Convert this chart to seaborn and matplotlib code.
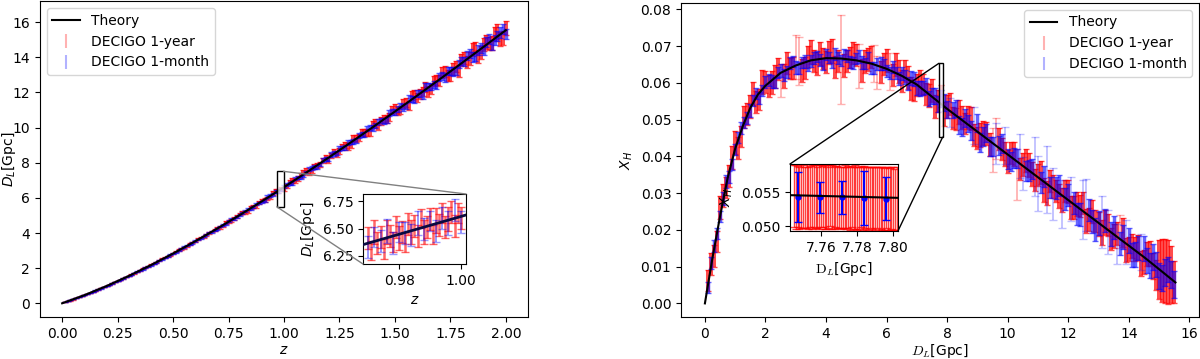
import numpy as np
import pandas as pd
import matplotlib
matplotlib.use("Agg")
import matplotlib.pyplot as plt
import seaborn as sns
from matplotlib.patches import Rectangle, ConnectionPatch
from matplotlib.lines import Line2D

# ---------------- data: left panel (D_L vs z) ----------------
z_theory = [0.0, 0.1, 0.2, 0.3, 0.4, 0.5, 0.6, 0.7, 0.8, 0.9, 1.0,
            1.1, 1.2, 1.3, 1.4, 1.5, 1.6, 1.7, 1.8, 1.9, 2.0]
dl_theory = [0.0, 0.460, 0.980, 1.553, 2.172, 2.833, 3.531, 4.260, 5.019, 5.802, 6.609,
             7.436, 8.282, 9.144, 10.021, 10.913, 11.817, 12.732, 13.659, 14.597, 15.543]

# simulated catalogue, part A
z_obs = [0.025, 0.050, 0.075, 0.100, 0.125, 0.150, 0.175, 0.200, 0.225, 0.250,
         0.275, 0.300, 0.325, 0.350, 0.375, 0.400, 0.425, 0.450, 0.475, 0.500,
         0.525, 0.550, 0.575, 0.600, 0.625, 0.650, 0.675, 0.700, 0.725, 0.750,
         0.775, 0.800, 0.825, 0.850, 0.875, 0.900, 0.925, 0.950, 0.975, 1.000,
         1.025, 1.050, 1.075, 1.100, 1.125, 1.150, 1.175, 1.200, 1.225, 1.250,
         1.275, 1.300, 1.325, 1.350, 1.375, 1.400, 1.425, 1.450, 1.475, 1.500,
         1.525, 1.550, 1.575, 1.600, 1.625, 1.650, 1.675, 1.700, 1.725, 1.750,
         1.775, 1.800, 1.825, 1.850, 1.875, 1.900, 1.925, 1.950, 1.975, 2.000]
dl_year = [0.120, 0.223, 0.355, 0.458, 0.594, 0.709, 0.858, 0.981, 1.115, 1.280,
           1.405, 1.557, 1.691, 1.878, 2.015, 2.182, 2.320, 2.530, 2.655, 2.833,
           3.031, 3.146, 3.370, 3.522, 3.752, 3.870, 4.084, 4.301, 4.406, 4.666,
           4.822, 5.086, 5.168, 5.427, 5.536, 5.848, 5.975, 6.266, 6.407, 6.510,
           6.897, 6.975, 7.267, 7.541, 7.566, 7.845, 8.145, 8.159, 8.642, 8.680,
           8.998, 9.019, 9.382, 9.698, 9.702, 10.186, 10.052, 10.511, 10.622, 11.078,
           10.993, 11.440, 11.823, 11.711, 12.046, 12.049, 12.649, 12.672, 13.210, 12.975,
           13.492, 13.859, 13.722, 14.445, 14.037, 14.745, 14.796, 15.343, 15.067, 15.666]
err_year = [0.010, 0.011, 0.010, 0.012, 0.012, 0.013, 0.012, 0.015, 0.014, 0.017,
            0.017, 0.020, 0.020, 0.023, 0.023, 0.027, 0.027, 0.031, 0.032, 0.036,
            0.037, 0.042, 0.042, 0.048, 0.048, 0.054, 0.055, 0.061, 0.062, 0.068,
            0.069, 0.076, 0.077, 0.085, 0.085, 0.094, 0.094, 0.103, 0.104, 0.113,
            0.113, 0.124, 0.124, 0.135, 0.135, 0.147, 0.146, 0.159, 0.158, 0.171,
            0.170, 0.184, 0.183, 0.198, 0.196, 0.212, 0.210, 0.226, 0.225, 0.242,
            0.240, 0.257, 0.255, 0.274, 0.271, 0.290, 0.288, 0.308, 0.305, 0.325,
            0.322, 0.344, 0.340, 0.362, 0.358, 0.382, 0.377, 0.401, 0.396, 0.422]
dl_month = [0.112, 0.235, 0.344, 0.467, 0.584, 0.723, 0.850, 0.975, 1.131, 1.265,
            1.417, 1.542, 1.714, 1.858, 2.033, 2.160, 2.341, 2.501, 2.683, 2.809,
            3.011, 3.203, 3.344, 3.548, 3.691, 3.927, 4.070, 4.229, 4.464, 4.670,
            4.803, 5.019, 5.238, 5.362, 5.652, 5.782, 6.069, 6.198, 6.360, 6.650,
            6.799, 7.095, 7.163, 7.446, 7.689, 7.763, 8.138, 8.236, 8.522, 8.800,
            8.864, 9.184, 9.251, 9.583, 9.936, 9.975, 10.324, 10.368, 10.827, 10.895,
            11.212, 11.234, 11.630, 11.937, 11.861, 12.338, 12.459, 12.889, 12.848, 13.220,
            13.232, 13.784, 14.126, 14.022, 14.417, 14.430, 15.063, 14.982, 15.427, 15.328]
err_month = [0.008, 0.008, 0.008, 0.009, 0.009, 0.009, 0.010, 0.011, 0.011, 0.012,
             0.013, 0.014, 0.016, 0.016, 0.018, 0.019, 0.021, 0.022, 0.025, 0.026,
             0.028, 0.030, 0.032, 0.034, 0.037, 0.039, 0.042, 0.044, 0.047, 0.050,
             0.052, 0.056, 0.058, 0.062, 0.065, 0.068, 0.072, 0.075, 0.079, 0.083,
             0.086, 0.090, 0.095, 0.098, 0.103, 0.107, 0.111, 0.116, 0.120, 0.125,
             0.130, 0.134, 0.140, 0.144, 0.149, 0.155, 0.160, 0.165, 0.171, 0.176,
             0.182, 0.188, 0.194, 0.200, 0.206, 0.212, 0.218, 0.224, 0.231, 0.237,
             0.244, 0.250, 0.257, 0.264, 0.271, 0.278, 0.286, 0.293, 0.300, 0.308]

# simulated catalogue, part B
z_obs2 = [0.0125, 0.0375, 0.0625, 0.0875, 0.1125, 0.1375, 0.1625, 0.1875, 0.2125, 0.2375,
          0.2625, 0.2875, 0.3125, 0.3375, 0.3625, 0.3875, 0.4125, 0.4375, 0.4625, 0.4875,
          0.5125, 0.5375, 0.5625, 0.5875, 0.6125, 0.6375, 0.6625, 0.6875, 0.7125, 0.7375,
          0.7625, 0.7875, 0.8125, 0.8375, 0.8625, 0.8875, 0.9125, 0.9375, 0.9625, 0.9875,
          1.0125, 1.0375, 1.0625, 1.0875, 1.1125, 1.1375, 1.1625, 1.1875, 1.2125, 1.2375,
          1.2625, 1.2875, 1.3125, 1.3375, 1.3625, 1.3875, 1.4125, 1.4375, 1.4625, 1.4875,
          1.5125, 1.5375, 1.5625, 1.5875, 1.6125, 1.6375, 1.6625, 1.6875, 1.7125, 1.7375,
          1.7625, 1.7875, 1.8125, 1.8375, 1.8625, 1.8875, 1.9125, 1.9375, 1.9625, 1.9875]
dl_year2 = [0.060, 0.163, 0.294, 0.399, 0.535, 0.648, 0.786, 0.928, 1.040, 1.201,
            1.334, 1.494, 1.619, 1.785, 1.962, 2.073, 2.268, 2.417, 2.605, 2.736,
            2.950, 3.083, 3.240, 3.453, 3.651, 3.757, 4.009, 4.175, 4.317, 4.604,
            4.706, 4.946, 5.172, 5.247, 5.508, 5.750, 5.884, 6.015, 6.390, 6.530,
            6.654, 6.991, 7.113, 7.450, 7.446, 7.796, 7.906, 8.284, 8.406, 8.472,
            8.908, 8.929, 9.402, 9.435, 9.732, 9.726, 10.260, 10.355, 10.464, 11.013,
            10.953, 11.352, 11.272, 11.890, 11.904, 12.301, 12.185, 12.707, 13.125, 12.954,
            13.344, 13.242, 13.982, 13.941, 14.535, 14.257, 14.867, 14.835, 15.468, 15.097]
err_year2 = [0.010, 0.011, 0.011, 0.012, 0.012, 0.013, 0.013, 0.014, 0.015, 0.016,
             0.018, 0.019, 0.021, 0.023, 0.024, 0.026, 0.029, 0.030, 0.033, 0.036,
             0.038, 0.041, 0.043, 0.047, 0.049, 0.053, 0.056, 0.060, 0.063, 0.067,
             0.070, 0.075, 0.078, 0.083, 0.087, 0.092, 0.096, 0.101, 0.105, 0.111,
             0.115, 0.121, 0.126, 0.132, 0.137, 0.143, 0.148, 0.155, 0.160, 0.167,
             0.173, 0.180, 0.186, 0.193, 0.199, 0.207, 0.213, 0.221, 0.228, 0.236,
             0.243, 0.251, 0.258, 0.267, 0.274, 0.283, 0.291, 0.300, 0.308, 0.317,
             0.325, 0.335, 0.343, 0.353, 0.362, 0.372, 0.381, 0.391, 0.400, 0.411]
dl_month2 = [0.062, 0.170, 0.290, 0.396, 0.526, 0.660, 0.780, 0.918, 1.041, 1.205,
             1.337, 1.488, 1.620, 1.800, 1.935, 2.098, 2.239, 2.429, 2.580, 2.766,
             2.897, 3.095, 3.292, 3.430, 3.633, 3.800, 4.025, 4.143, 4.379, 4.530,
             4.776, 4.885, 5.123, 5.350, 5.475, 5.718, 5.838, 6.135, 6.361, 6.491,
             6.738, 6.847, 7.174, 7.293, 7.635, 7.753, 7.898, 8.199, 8.474, 8.542,
             8.834, 9.143, 9.211, 9.531, 9.588, 10.004, 10.116, 10.405, 10.424, 10.889,
             11.062, 11.139, 11.653, 11.624, 11.931, 12.308, 12.345, 12.438, 12.940, 13.222,
             13.189, 13.618, 13.750, 14.222, 14.055, 14.536, 14.858, 14.688, 15.218, 15.610]
err_month2 = [0.0075, 0.0075, 0.008, 0.008, 0.009, 0.009, 0.010, 0.011, 0.011, 0.012,
              0.014, 0.014, 0.016, 0.017, 0.018, 0.020, 0.021, 0.023, 0.025, 0.026,
              0.029, 0.030, 0.032, 0.035, 0.037, 0.039, 0.042, 0.044, 0.047, 0.050,
              0.053, 0.056, 0.059, 0.062, 0.065, 0.068, 0.072, 0.075, 0.079, 0.083,
              0.086, 0.090, 0.095, 0.098, 0.103, 0.107, 0.111, 0.116, 0.120, 0.125,
              0.130, 0.134, 0.140, 0.144, 0.149, 0.155, 0.160, 0.165, 0.171, 0.176,
              0.182, 0.188, 0.194, 0.200, 0.206, 0.212, 0.218, 0.224, 0.231, 0.237,
              0.244, 0.251, 0.257, 0.264, 0.272, 0.278, 0.286, 0.293, 0.300, 0.308]

# zoom (inset) data, left
z_zoom_year = [0.970, 0.971, 0.972, 0.973, 0.974, 0.975, 0.976, 0.977, 0.978, 0.979,
               0.980, 0.981, 0.982, 0.983, 0.984, 0.985, 0.986, 0.987, 0.988, 0.989,
               0.990, 0.991, 0.992, 0.993, 0.994, 0.995, 0.996, 0.997, 0.998, 0.999, 1.000]
dl_zoom_year = [6.411, 6.299, 6.468, 6.366, 6.424, 6.312, 6.471, 6.429, 6.377, 6.515,
                6.414, 6.472, 6.380, 6.539, 6.467, 6.525, 6.433, 6.592, 6.470, 6.518,
                6.586, 6.445, 6.573, 6.531, 6.640, 6.518, 6.586, 6.654, 6.523, 6.641, 6.599]
err_zoom_year = [0.10, 0.09, 0.11, 0.10, 0.10, 0.09, 0.11, 0.10, 0.09, 0.10,
                 0.11, 0.10, 0.09, 0.10, 0.11, 0.10, 0.10, 0.09, 0.11, 0.10,
                 0.10, 0.09, 0.11, 0.10, 0.09, 0.10, 0.11, 0.10, 0.10, 0.09, 0.10]
z_zoom_month = [0.970, 0.972, 0.974, 0.976, 0.978, 0.980, 0.982, 0.984,
                0.986, 0.988, 0.990, 0.992, 0.994, 0.996, 0.998, 1.000]
dl_zoom_month = [6.329, 6.426, 6.386, 6.475, 6.371, 6.468, 6.460, 6.437,
                 6.549, 6.494, 6.566, 6.479, 6.592, 6.552, 6.665, 6.561]
err_zoom_month = [0.10, 0.09, 0.10, 0.11, 0.10, 0.09, 0.10, 0.10,
                  0.11, 0.10, 0.09, 0.10, 0.10, 0.11, 0.10, 0.10]

# ---------------- data: right panel (X_H vs D_L) ----------------
dl_theory_r = [0.0, 0.1, 0.25, 0.5, 0.75, 1.0, 1.25, 1.5, 1.75, 2.0, 2.5, 3.0, 3.5, 4.0, 4.5,
               5.0, 5.5, 6.0, 6.5, 7.0, 7.5, 8.0, 8.5, 9.0, 9.5, 10.0, 10.5, 11.0, 11.5,
               12.0, 12.5, 13.0, 13.5, 14.0, 14.5, 15.0, 15.54]
xh_theory = [0.0, 0.0050, 0.0124, 0.0237, 0.0341, 0.0421, 0.0482, 0.0532, 0.0568, 0.0592,
             0.0627, 0.0647, 0.0661, 0.0667, 0.0666, 0.0661, 0.0652, 0.0638, 0.0619, 0.0595,
             0.0562, 0.0529, 0.0498, 0.0467, 0.0436, 0.0405, 0.0374, 0.0343, 0.0312, 0.0281,
             0.0250, 0.0219, 0.0188, 0.0157, 0.0126, 0.0093, 0.0057]

# part A
dl_obs_r = [0.1, 0.3, 0.5, 0.7, 0.9, 1.1, 1.3, 1.5, 1.7, 1.9,
            2.1, 2.3, 2.5, 2.7, 2.9, 3.1, 3.3, 3.5, 3.7, 3.9,
            4.1, 4.3, 4.5, 4.7, 4.9, 5.1, 5.3, 5.5, 5.7, 5.9,
            6.1, 6.3, 6.5, 6.7, 6.9, 7.1, 7.3, 7.5, 7.7, 7.9,
            8.1, 8.3, 8.5, 8.7, 8.9, 9.1, 9.3, 9.5, 9.7, 9.9,
            10.1, 10.3, 10.5, 10.7, 10.9, 11.1, 11.3, 11.5, 11.7, 11.9,
            12.1, 12.3, 12.5, 12.7, 12.9, 13.1, 13.3, 13.5, 13.7, 13.9,
            14.1, 14.3, 14.5, 14.7, 14.9, 15.1, 15.3, 15.5]
xh_year = [0.0063, 0.0129, 0.0260, 0.0315, 0.0397, 0.0422, 0.0507, 0.0535, 0.0548, 0.0602,
           0.0591, 0.0618, 0.0607, 0.0653, 0.0640, 0.0660, 0.0640, 0.0684, 0.0653, 0.0666,
           0.0682, 0.0644, 0.0663, 0.0659, 0.0682, 0.0646, 0.0658, 0.0670, 0.0628, 0.0651,
           0.0631, 0.0650, 0.0604, 0.0614, 0.0580, 0.0602, 0.0569, 0.0580, 0.0551, 0.0515,
           0.0542, 0.0501, 0.0506, 0.0506, 0.0458, 0.0458, 0.0461, 0.0416, 0.0447, 0.0406,
           0.0409, 0.0350, 0.0377, 0.0377, 0.0336, 0.0357, 0.0301, 0.0317, 0.0292, 0.0305,
           0.0260, 0.0270, 0.0273, 0.0228, 0.0225, 0.0193, 0.0213, 0.0183, 0.0196, 0.0145,
           0.0156, 0.0153, 0.0113, 0.0137, 0.0077, 0.0090, 0.0085, 0.0058]
err_year_r = [0.0028, 0.0030, 0.0031, 0.0029, 0.0032, 0.0030, 0.0029, 0.0031, 0.0030, 0.0032,
              0.0029, 0.0031, 0.0045, 0.0030, 0.0031, 0.0065, 0.0030, 0.0032, 0.0031, 0.0029,
              0.0032, 0.0030, 0.0120, 0.0031, 0.0030, 0.0060, 0.0031, 0.0030, 0.0045, 0.0031,
              0.0050, 0.0032, 0.0030, 0.0031, 0.0030, 0.0032, 0.0030, 0.0031, 0.0030, 0.0032,
              0.0031, 0.0030, 0.0032, 0.0031, 0.0030, 0.0032, 0.0031, 0.0060, 0.0030, 0.0032,
              0.0031, 0.0070, 0.0031, 0.0032, 0.0030, 0.0031, 0.0033, 0.0031, 0.0032, 0.0030,
              0.0031, 0.0033, 0.0031, 0.0032, 0.0030, 0.0033, 0.0031, 0.0032, 0.0045, 0.0033,
              0.0032, 0.0034, 0.0033, 0.0034, 0.0040, 0.0085, 0.0088, 0.0058]
xh_month = [0.0044, 0.0156, 0.0235, 0.0332, 0.0378, 0.0450, 0.0492, 0.0524, 0.0572, 0.0579,
            0.0607, 0.0601, 0.0633, 0.0630, 0.0657, 0.0641, 0.0658, 0.0659, 0.0672, 0.0652,
            0.0669, 0.0678, 0.0660, 0.0672, 0.0653, 0.0671, 0.0652, 0.0641, 0.0651, 0.0650,
            0.0626, 0.0627, 0.0625, 0.0597, 0.0611, 0.0584, 0.0591, 0.0563, 0.0542, 0.0546,
            0.0519, 0.0531, 0.0480, 0.0489, 0.0483, 0.0438, 0.0463, 0.0426, 0.0429, 0.0429,
            0.0386, 0.0394, 0.0354, 0.0362, 0.0372, 0.0329, 0.0337, 0.0297, 0.0320, 0.0284,
            0.0285, 0.0244, 0.0255, 0.0253, 0.0202, 0.0221, 0.0195, 0.0206, 0.0163, 0.0166,
            0.0131, 0.0151, 0.0149, 0.0104, 0.0105, 0.0070, 0.0092, 0.0051]
err_month_r = [0.0015, 0.0016, 0.0015, 0.0017, 0.0016, 0.0015, 0.0016, 0.0017, 0.0015, 0.0016,
               0.0016, 0.0015, 0.0017, 0.0016, 0.0015, 0.0016, 0.0017, 0.0016, 0.0015, 0.0016,
               0.0016, 0.0017, 0.0015, 0.0016, 0.0016, 0.0017, 0.0015, 0.0016, 0.0017, 0.0016,
               0.0016, 0.0017, 0.0018, 0.0018, 0.0019, 0.0020, 0.0021, 0.0022, 0.0022, 0.0023,
               0.0040, 0.0023, 0.0024, 0.0024, 0.0050, 0.0025, 0.0025, 0.0026, 0.0026, 0.0050,
               0.0027, 0.0027, 0.0045, 0.0028, 0.0080, 0.0028, 0.0090, 0.0070, 0.0029, 0.0029,
               0.0060, 0.0030, 0.0080, 0.0030, 0.0031, 0.0070, 0.0060, 0.0031, 0.0032, 0.0060,
               0.0032, 0.0033, 0.0033, 0.0034, 0.0034, 0.0035, 0.0035, 0.0036]

# part B
dl_obs_r2 = [0.2, 0.4, 0.6, 0.8, 1.0, 1.2, 1.4, 1.6, 1.8, 2.0,
             2.2, 2.4, 2.6, 2.8, 3.0, 3.2, 3.4, 3.6, 3.8, 4.0,
             4.2, 4.4, 4.6, 4.8, 5.0, 5.2, 5.4, 5.6, 5.8, 6.0,
             6.2, 6.4, 6.6, 6.8, 7.0, 7.2, 7.4, 7.6, 7.8, 8.0,
             8.2, 8.4, 8.6, 8.8, 9.0, 9.2, 9.4, 9.6, 9.8, 10.0,
             10.2, 10.4, 10.6, 10.8, 11.0, 11.2, 11.4, 11.6, 11.8, 12.0,
             12.2, 12.4, 12.6, 12.8, 13.0, 13.2, 13.4, 13.6, 13.8, 14.0,
             14.2, 14.4, 14.6, 14.8, 15.0, 15.2, 15.4]
xh_year2 = [0.0107, 0.0169, 0.0294, 0.0347, 0.0437, 0.0454, 0.0515, 0.0570, 0.0554, 0.0601,
            0.0601, 0.0638, 0.0618, 0.0639, 0.0670, 0.0633, 0.0671, 0.0659, 0.0680, 0.0657,
            0.0687, 0.0659, 0.0647, 0.0668, 0.0676, 0.0634, 0.0664, 0.0652, 0.0629, 0.0661,
            0.0621, 0.0631, 0.0632, 0.0585, 0.0595, 0.0596, 0.0566, 0.0535, 0.0565, 0.0536,
            0.0505, 0.0520, 0.0489, 0.0503, 0.0449, 0.0463, 0.0432, 0.0448, 0.0421, 0.0385,
            0.0406, 0.0365, 0.0388, 0.0351, 0.0348, 0.0308, 0.0333, 0.0306, 0.0281, 0.0304,
            0.0261, 0.0266, 0.0224, 0.0250, 0.0216, 0.0220, 0.0176, 0.0190, 0.0193, 0.0147,
            0.0148, 0.0109, 0.0135, 0.0102, 0.0092, 0.0088, 0.0078]
err_year2_r = [0.0030, 0.0029, 0.0031, 0.0030, 0.0032, 0.0029, 0.0030, 0.0031, 0.0029, 0.0030,
               0.0031, 0.0030, 0.0032, 0.0029, 0.0060, 0.0031, 0.0030, 0.0029, 0.0031, 0.0030,
               0.0032, 0.0030, 0.0031, 0.0029, 0.0030, 0.0032, 0.0031, 0.0050, 0.0030, 0.0031,
               0.0029, 0.0032, 0.0030, 0.0031, 0.0030, 0.0029, 0.0031, 0.0032, 0.0030, 0.0031,
               0.0030, 0.0032, 0.0029, 0.0031, 0.0030, 0.0032, 0.0031, 0.0055, 0.0030, 0.0031,
               0.0032, 0.0030, 0.0031, 0.0033, 0.0030, 0.0032, 0.0031, 0.0030, 0.0033, 0.0031,
               0.0032, 0.0030, 0.0033, 0.0031, 0.0032, 0.0033, 0.0030, 0.0032, 0.0040, 0.0033,
               0.0032, 0.0034, 0.0033, 0.0035, 0.0080, 0.0087, 0.0078]
xh_month2 = [0.0110, 0.0189, 0.0285, 0.0343, 0.0419, 0.0478, 0.0504, 0.0552, 0.0558, 0.0603,
             0.0604, 0.0628, 0.0622, 0.0653, 0.0642, 0.0656, 0.0647, 0.0668, 0.0662, 0.0676,
             0.0655, 0.0667, 0.0676, 0.0657, 0.0666, 0.0655, 0.0668, 0.0640, 0.0652, 0.0633,
             0.0643, 0.0612, 0.0616, 0.0614, 0.0587, 0.0586, 0.0557, 0.0564, 0.0556, 0.0528,
             0.0526, 0.0485, 0.0505, 0.0470, 0.0490, 0.0455, 0.0427, 0.0435, 0.0436, 0.0392,
             0.0396, 0.0400, 0.0360, 0.0366, 0.0325, 0.0346, 0.0315, 0.0314, 0.0271, 0.0294,
             0.0274, 0.0241, 0.0267, 0.0222, 0.0219, 0.0225, 0.0189, 0.0162, 0.0180, 0.0172,
             0.0132, 0.0140, 0.0117, 0.0127, 0.0075, 0.0084, 0.0079]
err_month2_r = [0.0016, 0.0015, 0.0017, 0.0016, 0.0015, 0.0016, 0.0017, 0.0015, 0.0016, 0.0016,
                0.0017, 0.0015, 0.0016, 0.0016, 0.0017, 0.0015, 0.0016, 0.0017, 0.0016, 0.0015,
                0.0016, 0.0017, 0.0015, 0.0016, 0.0016, 0.0017, 0.0015, 0.0016, 0.0017, 0.0016,
                0.0016, 0.0017, 0.0018, 0.0019, 0.0019, 0.0020, 0.0021, 0.0022, 0.0023, 0.0023,
                0.0023, 0.0024, 0.0024, 0.0025, 0.0025, 0.0026, 0.0026, 0.0055, 0.0026, 0.0027,
                0.0027, 0.0060, 0.0028, 0.0028, 0.0075, 0.0029, 0.0029, 0.0029, 0.0065, 0.0030,
                0.0030, 0.0031, 0.0070, 0.0031, 0.0032, 0.0032, 0.0033, 0.0055, 0.0033, 0.0034,
                0.0034, 0.0050, 0.0035, 0.0035, 0.0036, 0.0036, 0.0037]

# zoom (inset) data, right
dlr_zoom_year = [7.745, 7.746, 7.747, 7.748, 7.749, 7.750, 7.751, 7.752, 7.753, 7.754,
                 7.755, 7.756, 7.757, 7.758, 7.759, 7.760, 7.761, 7.762, 7.763, 7.764,
                 7.765, 7.766, 7.767, 7.768, 7.769, 7.770, 7.771, 7.772, 7.773, 7.774,
                 7.775, 7.776, 7.777, 7.778, 7.779, 7.780, 7.781, 7.782, 7.783, 7.784,
                 7.785, 7.786, 7.787, 7.788, 7.789, 7.790, 7.791, 7.792, 7.793, 7.794,
                 7.795, 7.796, 7.797, 7.798, 7.799, 7.800, 7.801, 7.802]
xhr_zoom_year = [0.0545, 0.0543, 0.0544, 0.0542, 0.0545, 0.0544, 0.0543, 0.0545, 0.0542, 0.0544,
                 0.0543, 0.0545, 0.0544, 0.0542, 0.0543, 0.0545, 0.0544, 0.0543, 0.0542, 0.0544,
                 0.0545, 0.0543, 0.0542, 0.0544, 0.0543, 0.0545, 0.0542, 0.0543, 0.0544, 0.0542,
                 0.0543, 0.0541, 0.0544, 0.0542, 0.0543, 0.0541, 0.0542, 0.0544, 0.0541, 0.0543,
                 0.0542, 0.0541, 0.0543, 0.0540, 0.0542, 0.0541, 0.0543, 0.0540, 0.0542, 0.0541,
                 0.0540, 0.0542, 0.0541, 0.0540, 0.0542, 0.0541, 0.0540, 0.0541]
errr_zoom_year = [0.0046, 0.0047, 0.0045, 0.0046, 0.0047, 0.0046, 0.0045, 0.0047, 0.0046, 0.0045,
                  0.0047, 0.0046, 0.0046, 0.0045, 0.0047, 0.0046, 0.0045, 0.0047, 0.0046, 0.0046,
                  0.0045, 0.0047, 0.0046, 0.0045, 0.0046, 0.0047, 0.0046, 0.0045, 0.0047, 0.0046,
                  0.0046, 0.0047, 0.0045, 0.0046, 0.0047, 0.0046, 0.0046, 0.0045, 0.0047, 0.0046,
                  0.0046, 0.0047, 0.0045, 0.0047, 0.0046, 0.0046, 0.0045, 0.0047, 0.0046, 0.0047,
                  0.0046, 0.0045, 0.0047, 0.0046, 0.0046, 0.0047, 0.0045, 0.0046]
dlr_zoom_month = [7.7474, 7.7594, 7.7715, 7.7840, 7.7960]
xhr_zoom_month = [0.05435, 0.05430, 0.05426, 0.05419, 0.05410]
errr_zoom_month = [0.0037, 0.0023, 0.0025, 0.0040, 0.0032]

labels = ["Theory", "DECIGO 1-year", "DECIGO 1-month"]

# ---------------- tables ----------------
df_th_l = pd.DataFrame({"z": z_theory, "dl": dl_theory})
df_th_r = pd.DataFrame({"dl": dl_theory_r, "xh": xh_theory})
ly = pd.concat([pd.DataFrame({"x": z_obs, "y": dl_year, "e": err_year}),
                pd.DataFrame({"x": z_obs2, "y": dl_year2, "e": err_year2})]).sort_values("x")
lm = pd.concat([pd.DataFrame({"x": z_obs, "y": dl_month, "e": err_month}),
                pd.DataFrame({"x": z_obs2, "y": dl_month2, "e": err_month2})]).sort_values("x")
ry = pd.concat([pd.DataFrame({"x": dl_obs_r, "y": xh_year, "e": err_year_r}),
                pd.DataFrame({"x": dl_obs_r2, "y": xh_year2, "e": err_year2_r})]).sort_values("x")
rm = pd.concat([pd.DataFrame({"x": dl_obs_r, "y": xh_month, "e": err_month_r}),
                pd.DataFrame({"x": dl_obs_r2, "y": xh_month2, "e": err_month2_r})]).sort_values("x")

# ---------------- figure ----------------
fig = plt.figure(figsize=(12, 3.59), dpi=100)
ax1 = fig.add_axes([0.0333, 0.117, 0.4067, 0.880])
ax2 = fig.add_axes([0.5675, 0.117, 0.4317, 0.8747])

band_red = dict(fmt="none", ecolor="red", alpha=0.7, elinewidth=2.9, capsize=2.5, capthick=1.0)
band_blue = dict(fmt="none", ecolor="blue", alpha=0.6, elinewidth=2.5, capsize=2.5, capthick=1.0)
thin_red = dict(fmt="none", ecolor="red", alpha=0.3, elinewidth=1.3, capsize=3, capthick=1.0)
thin_blue = dict(fmt="none", ecolor="blue", alpha=0.25, elinewidth=1.3, capsize=3, capthick=1.0)

# left main
ax1.errorbar(ly.x, ly.y, yerr=ly.e, zorder=2, **band_red)
ax1.errorbar(lm.x, lm.y, yerr=lm.e, zorder=3, **band_blue)
sns.lineplot(data=df_th_l, x="z", y="dl", ax=ax1, color="black", linewidth=1.5, zorder=5)
ax1.set_xlim(-0.1, 2.1)
ax1.set_ylim(-0.78, 17.2)
ax1.set_xticks([0.0, 0.25, 0.5, 0.75, 1.0, 1.25, 1.5, 1.75, 2.0])
ax1.set_yticks([0, 2, 4, 6, 8, 10, 12, 14, 16])
ax1.set_xlabel("$z$", labelpad=2)
ax1.set_ylabel("$D_L$[Gpc]")
ax1.yaxis.set_label_coords(-0.046, 0.5)

# right main: broad (outlying) error bars drawn thin, the rest as a dense band
wide_y = (ry["e"] > 0.0042) & (ry["x"] < 15)
wide_m = rm["e"] > 0.0038
ax2.errorbar(ry.x[~wide_y], ry.y[~wide_y], yerr=ry.e[~wide_y], zorder=2, **band_red)
ax2.errorbar(ry.x[wide_y], ry.y[wide_y], yerr=ry.e[wide_y], zorder=2, **thin_red)
ax2.errorbar(rm.x[~wide_m], rm.y[~wide_m], yerr=rm.e[~wide_m], zorder=3, **band_blue)
ax2.errorbar(rm.x[wide_m], rm.y[wide_m], yerr=rm.e[wide_m], zorder=3, **thin_blue)
sns.lineplot(data=df_th_r, x="dl", y="xh", ax=ax2, color="black", linewidth=1.5, zorder=5)
ax2.set_xlim(-0.79, 16.32)
ax2.set_ylim(-0.0037, 0.0817)
ax2.set_xticks([0, 2, 4, 6, 8, 10, 12, 14, 16])
ax2.set_yticks([0.0, 0.01, 0.02, 0.03, 0.04, 0.05, 0.06, 0.07, 0.08])
ax2.set_xlabel("$D_L$[Gpc]", math_fontfamily="cm", labelpad=1)
ax2.set_ylabel("$X_H$")

# legends (thin proxy handles)
def proxies(ax):
    th = Line2D([], [], color="black", lw=1.5)
    r = ax.errorbar([], [], yerr=[], fmt="none", ecolor="red", alpha=0.3, capsize=3)
    b = ax.errorbar([], [], yerr=[], fmt="none", ecolor="blue", alpha=0.3, capsize=3)
    return [th, r, b]

ax1.legend(proxies(ax1), labels, loc="upper left")
ax2.legend(proxies(ax2), labels, loc="upper right")

# left inset
axi1 = fig.add_axes([0.3025, 0.2646, 0.0858, 0.195])
axi1.errorbar(z_zoom_year, dl_zoom_year, yerr=err_zoom_year, fmt="none", ecolor="red",
              alpha=0.6, elinewidth=1.8, capsize=3, zorder=2)
axi1.errorbar(z_zoom_month, dl_zoom_month, yerr=err_zoom_month, fmt="none", ecolor="blue",
              alpha=0.4, elinewidth=1.4, capsize=3, zorder=3)
sns.lineplot(data=df_th_l, x="z", y="dl", ax=axi1, color="#0a0a40", linewidth=2, zorder=5)
axi1.set_xlim(0.9683, 1.0017)
axi1.set_ylim(6.177, 6.814)
axi1.set_xticks([0.98, 1.00])
axi1.set_yticks([6.25, 6.50, 6.75])
axi1.set_xlabel("$z$")
axi1.set_ylabel("$D_L$[Gpc]")

# right inset
axi2 = fig.add_axes([0.6583, 0.3565, 0.09, 0.1866])
axi2.errorbar(dlr_zoom_year, xhr_zoom_year, yerr=errr_zoom_year, fmt="none", ecolor="red",
              alpha=0.75, elinewidth=1.0, capsize=3, zorder=2)
axi2.errorbar(dlr_zoom_month, xhr_zoom_month, yerr=errr_zoom_month, fmt="o", color="blue",
              ecolor="blue", ms=3.5, elinewidth=1.5, capsize=3, zorder=4)
sns.lineplot(data=df_th_r, x="dl", y="xh", ax=axi2, color="black", linewidth=1.5, zorder=5)
axi2.set_xlim(7.7428, 7.8026)
axi2.set_ylim(0.0493, 0.0592)
axi2.set_xticks([7.76, 7.78, 7.80])
axi2.set_yticks([0.050, 0.055])
axi2.set_xlabel(r"$\mathrm{D}_L$[Gpc]", math_fontfamily="cm")
axi2.set_ylabel("$X_H$")

# zoom rectangles and connectors
ax1.add_patch(Rectangle((0.968, 5.49), 0.030, 2.02, facecolor=(1, 1, 1, 0.75),
                        edgecolor="black", lw=1, zorder=6))
ax2.add_patch(Rectangle((7.73, 0.0452), 0.12, 0.0201, facecolor=(1, 1, 1, 0.75),
                        edgecolor="black", lw=1, zorder=6))
for xyA, xyB in [((0.998, 7.51), (1, 1)), ((0.968, 5.49), (0, 0))]:
    con = ConnectionPatch(xyA=xyA, coordsA=ax1.transData, xyB=xyB, coordsB=axi1.transAxes,
                          color="0.5", lw=1)
    fig.add_artist(con)
for xyA, xyB in [((7.73, 0.0653), (0, 1)), ((7.85, 0.0452), (1, 0))]:
    con = ConnectionPatch(xyA=xyA, coordsA=ax2.transData, xyB=xyB, coordsB=axi2.transAxes,
                          color="black", lw=1)
    fig.add_artist(con)

fig.savefig("out.png", dpi=100)
